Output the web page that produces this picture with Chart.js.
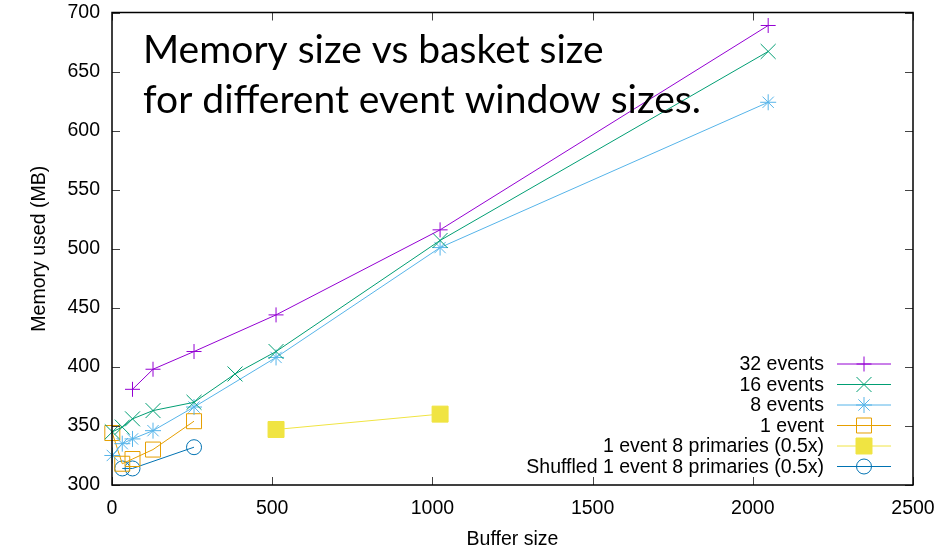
<!DOCTYPE html>
<html>
<head>
<meta charset="utf-8">
<style>
  html, body { margin: 0; padding: 0; background: #fff; }
  #wrap { width: 940px; height: 549px; }
</style>
</head>
<body>
<div id="wrap"><canvas id="myChart" width="940" height="549"></canvas></div>
<script src="https://cdn.jsdelivr.net/npm/chart.js@4.4.1/dist/chart.umd.min.js"></script>
<script>
// values
const seriesNames = [
    '32 events',
    '16 events',
    '8 events',
    '1 event',
    '1 event 8 primaries (0.5x)',
    'Shuffled 1 event 8 primaries (0.5x)'
];
const x32 = [64, 128, 256, 512, 1024, 2048];
const y32 = [381, 398, 413, 444, 516, 689];
const x16 = [1, 32, 64, 128, 256, 384, 512, 1024, 2048];
const y16 = [345, 349, 356, 363, 370, 394, 413, 507, 667];
const x8 = [1, 32, 64, 128, 256, 512, 1024, 2048];
const y8 = [325, 335, 339, 346, 366, 408, 501, 624];
const x1 = [1, 32, 64, 128, 256];
const y1 = [344, 318, 322, 330, 354];
const x1p = [512, 1024];
const y1p = [347, 360];
const xShuf = [32, 64, 256];
const yShuf = [314, 314, 332];

const titleLines = ['Memory size vs basket size', 'for different event window sizes.'];

const pts = (xs, ys) => xs.map((x, i) => ({ x: x, y: ys[i] }));
const FONT = '"Liberation Sans", Arial, sans-serif';

function ds(label, data, color, style, radius, fill) {
    return {
        label: label,
        data: data,
        borderColor: color,
        backgroundColor: color,
        borderWidth: 1,
        pointStyle: style,
        pointRadius: radius,
        pointHoverRadius: radius,
        pointBorderWidth: 1,
        pointBorderColor: color,
        pointBackgroundColor: fill ? color : 'rgba(0,0,0,0)',
        tension: 0,
        clip: false
    };
}

const data = {
    datasets: [
        ds(seriesNames[0], pts(x32, y32), '#9400d3', 'cross', 7.5, false),
        ds(seriesNames[1], pts(x16, y16), '#009e73', 'crossRot', 10.6, false),
        ds(seriesNames[2], pts(x8, y8), '#56b4e9', 'star', 8, false),
        ds(seriesNames[3], pts(x1, y1), '#e69f00', 'rect', 10.6, false),
        ds(seriesNames[4], pts(x1p, y1p), '#f0e442', 'rect', 11.3, true),
        ds(seriesNames[5], pts(xShuf, yShuf), '#0072b2', 'circle', 7.5, false)
    ]
};

// gnuplot look: box, inward mirrored ticks, key at bottom right, slide title
const gnuplotBits = {
    id: 'gnuplotBits',
    afterDraw(chart) {
        const ctx = chart.ctx;
        const a = chart.chartArea;
        const xs = chart.scales.x, ys = chart.scales.y;
        ctx.save();
        // ticks
        ctx.strokeStyle = '#444';
        ctx.lineWidth = 1;
        ctx.beginPath();
        xs.ticks.forEach(t => {
            const px = Math.round(xs.getPixelForValue(t.value)) + 0.5;
            ctx.moveTo(px, a.bottom); ctx.lineTo(px, a.bottom - 8);
            ctx.moveTo(px, a.top); ctx.lineTo(px, a.top + 8);
        });
        ys.ticks.forEach(t => {
            const py = Math.round(ys.getPixelForValue(t.value)) + 0.5;
            ctx.moveTo(a.left, py); ctx.lineTo(a.left + 8, py);
            ctx.moveTo(a.right, py); ctx.lineTo(a.right - 8, py);
        });
        ctx.stroke();
        // border
        ctx.strokeStyle = '#000';
        ctx.lineWidth = 1.5;
        ctx.strokeRect(a.left, a.top, a.right - a.left, a.bottom - a.top);

        // key
        const textRight = 824, lineL = 837, lineR = 891, rowY0 = 364, rowH = 20.5;
        ctx.font = '19.5px ' + FONT;
        ctx.textAlign = 'right';
        ctx.textBaseline = 'middle';
        chart.data.datasets.forEach((d, i) => {
            const y = rowY0 + i * rowH;
            ctx.fillStyle = '#000';
            ctx.fillText(d.label, textRight, y + 1);
            ctx.strokeStyle = d.borderColor;
            ctx.lineWidth = 1;
            ctx.beginPath();
            ctx.moveTo(lineL, y); ctx.lineTo(lineR, y);
            ctx.stroke();
            ctx.fillStyle = d.pointBackgroundColor;
            Chart.helpers.drawPoint(ctx, {
                pointStyle: d.pointStyle, radius: d.pointRadius,
                rotation: 0, borderWidth: 1
            }, (lineL + lineR) / 2, y);
        });

        // slide title
        ctx.fillStyle = '#000';
        ctx.textAlign = 'left';
        ctx.textBaseline = 'alphabetic';
        ctx.font = '39px Lato, "Open Sans", sans-serif';
        ctx.fillText(titleLines[0], 143, 63);
        ctx.fillText(titleLines[1], 143, 113);
        ctx.restore();
    }
};

const plainTick = v => String(v);

const config = {
    type: 'line',
    data: data,
    options: {
        responsive: false,
        animation: false,
        layout: { padding: { top: 12.5, right: 27, left: 0, bottom: 0 } },
        plugins: {
            legend: { display: false },
            tooltip: { enabled: false }
        },
        scales: {
            x: {
                type: 'linear',
                min: 0,
                max: 2500,
                ticks: { stepSize: 500, padding: 12, color: '#000', callback: plainTick, font: { family: FONT, size: 19.5 } },
                grid: { display: false, drawTicks: false },
                border: { display: false },
                title: {
                    display: true, text: 'Buffer size', color: '#000',
                    font: { family: FONT, size: 19.5, lineHeight: 1 },
                    padding: { top: 0, bottom: 0 }
                },
                afterFit(s) { s.height = 64; s.paddingLeft = 0; s.paddingRight = 0; }
            },
            y: {
                type: 'linear',
                min: 300,
                max: 700,
                ticks: { stepSize: 50, padding: 12, color: '#000', callback: plainTick, font: { family: FONT, size: 19.5 } },
                grid: { display: false, drawTicks: false },
                border: { display: false },
                title: {
                    display: true, text: 'Memory used (MB)', color: '#000',
                    font: { family: FONT, size: 19.5, lineHeight: 1 },
                    padding: { top: 30, bottom: 0 }
                },
                afterFit(s) { s.width = 112; s.paddingTop = 0; s.paddingBottom = 0; }
            }
        }
    },
    plugins: [gnuplotBits]
};

const myChart = new Chart(document.getElementById('myChart').getContext('2d'), config);
</script>
</body>
</html>
